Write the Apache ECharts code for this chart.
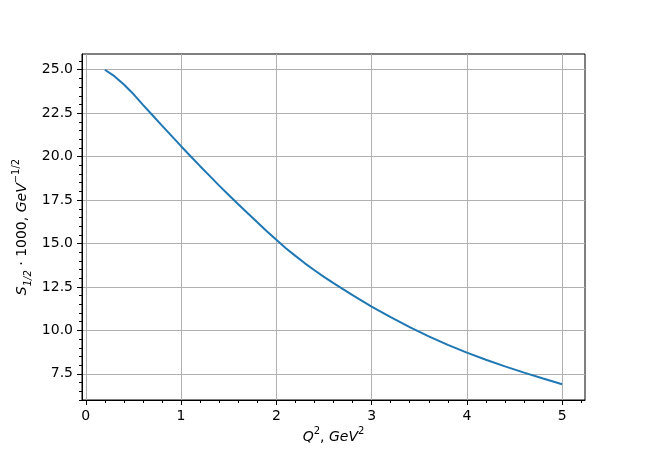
<!DOCTYPE html>
<html>
<head>
<meta charset="utf-8">
<script src="https://cdn.jsdelivr.net/npm/echarts@6/dist/echarts.min.js"></script>
<style>html,body{margin:0;padding:0;background:#fff;}#c{width:650px;height:450px;}</style>
</head>
<body>
<div id="c"></div>
<script>
// Data
const q2 = [0.2, 0.3, 0.4, 0.5, 0.6, 0.7, 0.8, 0.9, 1.0, 1.1, 1.2, 1.3, 1.4, 1.5, 1.6, 1.7, 1.8, 1.9, 2.0, 2.1, 2.2, 2.3, 2.4, 2.5, 2.6, 2.7, 2.8, 2.9, 3.0, 3.2, 3.4, 3.6, 3.8, 4.0, 4.2, 4.4, 4.6, 4.8, 5.0];
const s12 = [25.0, 24.63, 24.15, 23.6, 22.98, 22.38, 21.78, 21.19, 20.6, 20.02, 19.45, 18.89, 18.33, 17.79, 17.26, 16.74, 16.22, 15.71, 15.21, 14.73, 14.29, 13.86, 13.46, 13.08, 12.72, 12.37, 12.03, 11.7, 11.37, 10.76, 10.19, 9.66, 9.17, 8.72, 8.31, 7.93, 7.57, 7.23, 6.9];
const xTickValues = [0, 1, 2, 3, 4, 5];
const yTickValues = [7.5, 10.0, 12.5, 15.0, 17.5, 20.0, 22.5, 25.0];
const xMinorValues = [0.2,0.4,0.6,0.8,1.2,1.4,1.6,1.8,2.2,2.4,2.6,2.8,3.2,3.4,3.6,3.8,4.2,4.4,4.6,4.8,5.2];
const yMinorValues = [6.0,6.5,7.0,8.0,8.5,9.0,9.5,10.5,11.0,11.5,12.0,13.0,13.5,14.0,14.5,15.5,16.0,16.5,17.0,18.0,18.5,19.0,19.5,20.5,21.0,21.5,22.0,23.0,23.5,24.0,24.5,25.5];

const FONT = 'DejaVu Sans';
const chart = echarts.init(document.getElementById('c'), null, {renderer: 'canvas'});
const black = '#000';
const gridColor = '#b0b0b0';
const xMin = -0.04, xMax = 5.24, yMin = 5.995, yMax = 25.905;

const nameRich = {
  n: {fontFamily: FONT, fontSize: 14, color: black, lineHeight: 22},
  i: {fontFamily: FONT, fontSize: 14, fontStyle: 'italic', color: black, lineHeight: 22},
  sup: {fontFamily: FONT, fontSize: 10, color: black, verticalAlign: 'top', lineHeight: 22},
  sub: {fontFamily: FONT, fontSize: 10, fontStyle: 'italic', color: black, verticalAlign: 'bottom', lineHeight: 22}
};

chart.setOption({
  animation: false,
  backgroundColor: '#fff',
  grid: {left: 82, right: 65, top: 54, bottom: 50, show: true, borderColor: black, borderWidth: 1, backgroundColor: 'transparent', outerBoundsMode: 'none'},
  xAxis: [
    {
      type: 'value', min: xMin, max: xMax, position: 'bottom',
      axisLine: {show: true, onZero: false, lineStyle: {color: black, width: 1}},
      axisTick: {show: true, customValues: xTickValues, length: 5, lineStyle: {color: black, width: 1}},
      axisLabel: {customValues: xTickValues, formatter: v => String(Math.round(v)), color: black, fontFamily: FONT, fontSize: 14, margin: 9},
      splitLine: {show: true, lineStyle: {color: gridColor, width: 1}},
      name: '{i|Q}{sup|2}{n|, }{i|GeV}{sup|2}',
      nameLocation: 'middle', nameGap: 26, nameMoveOverlap: false,
      nameTextStyle: {rich: nameRich}
    },
    {
      type: 'value', min: xMin, max: xMax, position: 'bottom', offset: 0,
      axisLine: {show: false, onZero: false},
      axisTick: {show: true, customValues: xMinorValues, length: 3, lineStyle: {color: black, width: 1}},
      axisLabel: {show: false},
      splitLine: {show: false}
    }
  ],
  yAxis: [
    {
      type: 'value', min: yMin, max: yMax, position: 'left',
      axisLine: {show: true, onZero: false, lineStyle: {color: black, width: 1}},
      axisTick: {show: true, customValues: yTickValues, length: 5, lineStyle: {color: black, width: 1}},
      axisLabel: {customValues: yTickValues, formatter: v => v.toFixed(1), color: black, fontFamily: FONT, fontSize: 14, margin: 9},
      splitLine: {show: true, lineStyle: {color: gridColor, width: 1}},
      name: '{i|S}{sub|1/2}{n| · 1000, }{i|GeV}{sup|−1/2}',
      nameLocation: 'middle', nameGap: 49, nameRotate: 90, nameMoveOverlap: false,
      nameTextStyle: {rich: nameRich}
    },
    {
      type: 'value', min: yMin, max: yMax, position: 'left', offset: 0,
      axisLine: {show: false, onZero: false},
      axisTick: {show: true, customValues: yMinorValues, length: 3, lineStyle: {color: black, width: 1}},
      axisLabel: {show: false},
      splitLine: {show: false}
    }
  ],
  series: [{
    type: 'line',
    xAxisIndex: 0, yAxisIndex: 0,
    data: q2.map((x, i) => [x, s12[i]]),
    showSymbol: false,
    smooth: false,
    lineStyle: {color: '#1f77b4', width: 2},
    itemStyle: {color: '#1f77b4'}
  }]
});
</script>
</body>
</html>
